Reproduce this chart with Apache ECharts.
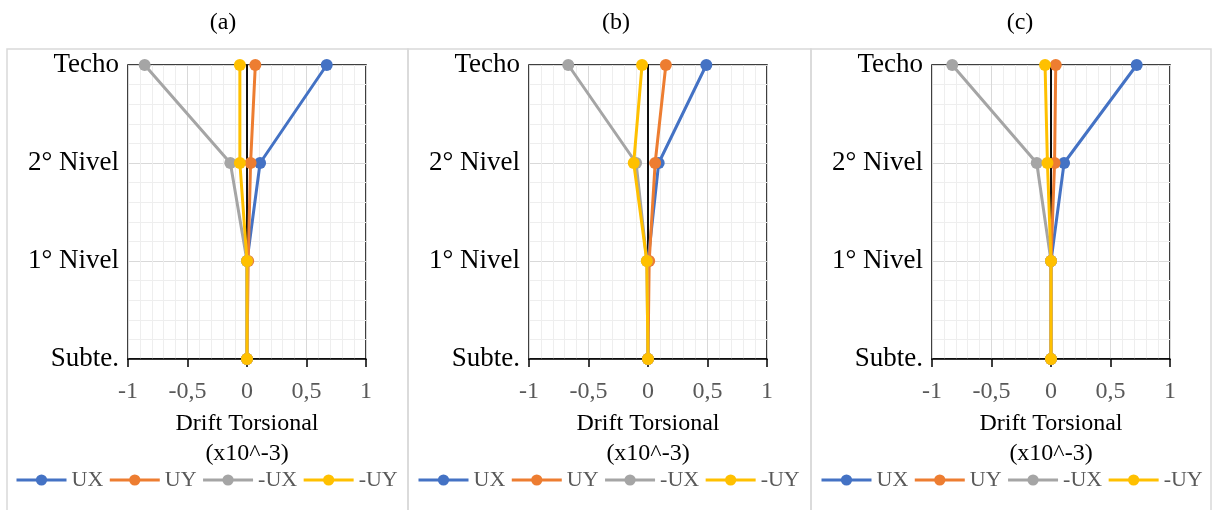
<!DOCTYPE html>
<html>
<head>
<meta charset="utf-8">
<script src="https://cdn.jsdelivr.net/npm/echarts@6/dist/echarts.min.js"></script>
<style>
  html, body { margin: 0; padding: 0; background: #fff; }
  #chart { width: 1212px; height: 510px; }
</style>
</head>
<body>
<div id="chart"></div>
<script>
// floor levels, bottom to top
const levels = ["Subte.", "1° Nivel", "2° Nivel", "Techo"];
const panelTitles = ["(a)", "(b)", "(c)"];
const seriesNames = ["UX", "UY", "-UX", "-UY"];
const colors = ["#4472C4", "#ED7D31", "#A5A5A5", "#FFC000"];

// drift values per level (Subte., 1°, 2°, Techo), x10^-3
const panelA = {
  UX: [0, 0, 0.11, 0.67],
  UY: [0, 0.01, 0.03, 0.07],
  "-UX": [0, 0, -0.14, -0.86],
  "-UY": [0, 0, -0.06, -0.06],
};
const panelB = {
  UX: [0, 0, 0.09, 0.49],
  UY: [0, 0.01, 0.06, 0.15],
  "-UX": [0, -0.01, -0.10, -0.67],
  "-UY": [0, -0.01, -0.12, -0.05],
};
const panelC = {
  UX: [0, 0, 0.11, 0.72],
  UY: [0, 0, 0.03, 0.04],
  "-UX": [0, 0, -0.12, -0.83],
  "-UY": [0, 0, -0.03, -0.05],
};
const panels = [panelA, panelB, panelC];

const serif = "'Liberation Serif', 'Times New Roman', serif";
const gridLefts = [128, 529, 932];
const titleCenters = [218, 611, 1015];
const legendLefts = [15, 417, 820];
const panelEdges = [7, 408, 811, 1211];

const chart = echarts.init(document.getElementById("chart"));

const grids = [];
const xAxes = [];
const yAxes = [];
const series = [];
const titles = [];
const legends = [];

panels.forEach((panel, p) => {
  grids.push({
    left: gridLefts[p],
    top: 65,
    width: 238,
    height: 294,
    show: true,
    borderColor: "#000",
    borderWidth: 1.5,
  });
  titles.push({
    text: panelTitles[p],
    left: titleCenters[p],
    textAlign: "center",
    top: 6,
    textStyle: { fontFamily: serif, fontSize: 24, fontWeight: "normal", color: "#000" },
  });
  xAxes.push({
    gridIndex: p,
    type: "value",
    min: -1,
    max: 1,
    interval: 0.5,
    name: "Drift Torsional\n(x10^-3)",
    nameLocation: "middle",
    nameGap: 44,
    nameTextStyle: { fontFamily: serif, fontSize: 24, color: "#000", lineHeight: 30 },
    axisLine: { show: true, lineStyle: { color: "#000", width: 1.5 } },
    axisTick: { show: true, length: 8, lineStyle: { color: "#000", width: 1.5 } },
    axisLabel: {
      fontFamily: serif,
      fontSize: 24,
      color: "#595959",
      margin: 21,
      formatter: (v) => String(v).replace(".", ","),
    },
    splitLine: { show: true, lineStyle: { color: "#d9d9d9", width: 1 } },
    minorTick: { show: false, splitNumber: 5 },
    minorSplitLine: { show: true, lineStyle: { color: "#eeeeee", width: 1 } },
  });
  yAxes.push({
    gridIndex: p,
    type: "value",
    min: 0,
    max: 3,
    interval: 1,
    axisLine: { show: true, lineStyle: { color: "#000", width: 1.5 } },
    axisTick: { show: false },
    axisLabel: {
      fontFamily: serif,
      fontSize: 27,
      color: "#000",
      margin: 9,
      formatter: (v) => levels[v] || "",
    },
    splitLine: { show: true, lineStyle: { color: "#d9d9d9", width: 1 } },
    minorTick: { show: false, splitNumber: 5 },
    minorSplitLine: { show: true, lineStyle: { color: "#eeeeee", width: 1 } },
  });
  legends.push({
    data: seriesNames.map((name) => ({ name: name })),
    left: legendLefts[p],
    top: 469,
    width: 400,
    padding: 0,
    itemWidth: 50,
    itemHeight: 14,
    itemGap: 5,
    lineStyle: { width: 3 },
    textStyle: { fontFamily: serif, fontSize: 22, color: "#595959" },
    selectedMode: false,
  });
  seriesNames.forEach((name, s) => {
    const item = {
      name: name,
      type: "line",
      xAxisIndex: p,
      yAxisIndex: p,
      data: panel[name].map((x, i) => [x, i]),
      color: colors[s],
      lineStyle: { width: 3 },
      symbol: "circle",
      symbolSize: 12,
      showSymbol: true,
      animation: false,
      z: 3 + s,
    };
    if (s === 0) {
      item.markLine = {
        silent: true,
        symbol: "none",
        label: { show: false },
        lineStyle: { color: "#000", width: 1.5, type: "solid" },
        data: [{ xAxis: 0 }],
        z: 1,
      };
    }
    series.push(item);
  });
});

const panelRects = [0, 1, 2].map((p) => ({
  type: "rect",
  shape: { x: panelEdges[p], y: 49, width: panelEdges[p + 1] - panelEdges[p], height: 500 },
  style: { fill: "none", stroke: "#d9d9d9", lineWidth: 1.5 },
  z: -10,
}));

chart.setOption({
  animation: false,
  backgroundColor: "#fff",
  title: titles,
  grid: grids,
  xAxis: xAxes,
  yAxis: yAxes,
  legend: legends,
  series: series,
  graphic: panelRects,
});
</script>
</body>
</html>
